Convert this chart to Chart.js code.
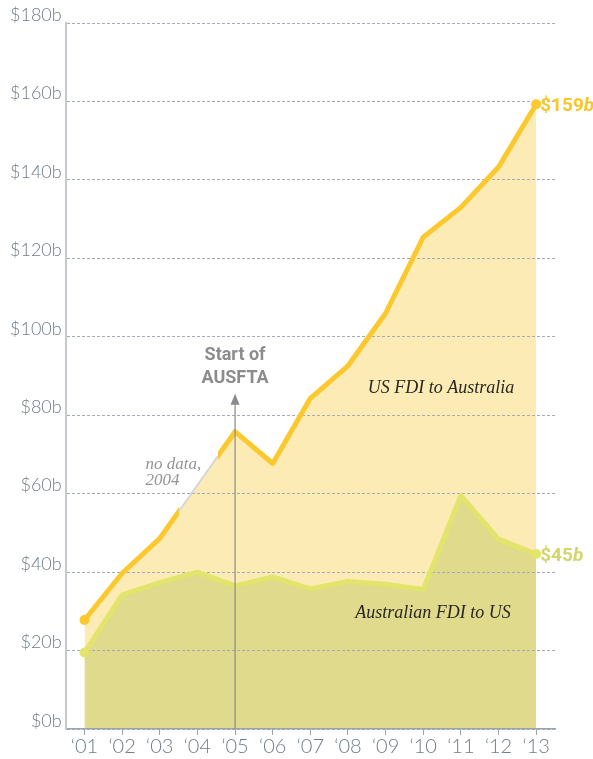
<!DOCTYPE html>
<html>
<head>
<meta charset="utf-8">
<script src="https://cdn.jsdelivr.net/npm/chart.js@4"></script>
<style>
  html, body { margin: 0; padding: 0; background: #fff; }
</style>
</head>
<body>
<canvas id="fdiChart" width="593" height="759"></canvas>
<script>
const years = ['\u201801', '\u201802', '\u201803', '\u201804', '\u201805', '\u201806', '\u201807',
               '\u201808', '\u201809', '\u201810', '\u201811', '\u201812', '\u201813'];
// US FDI to Australia, $b (no data for 2004)
const usToAustralia = [27.8, 39.7, 48.6, null, 75.8, 67.7, 84.3, 92.6, 106, 125.4, 133, 143.3, 159.3];
// Australian FDI to US, $b
const australiaToUs = [19.5, 34.2, 37.3, 40, 36.5, 38.8, 35.7, 37.6, 36.9, 35.6, 59.5, 48.4, 44.6];
const yTicks = [0, 20, 40, 60, 80, 100, 120, 140, 160, 180];

const usLine = '#fbc82e';
const usFill = '#fdebb5';
const ausLine = '#e2e46c';
const ausFill = '#e0da8d';
const tickGrey = '#707d88';

// line colour: yellow everywhere except the middle of the 2004 gap
let lineGrad = null;
function usStroke(c) {
    const chart = c.chart;
    const area = chart.chartArea;
    const x = chart.scales.x;
    if (!area || !x) return usLine;
    const key = area.left + ':' + area.right;
    if (!lineGrad || lineGrad.key !== key) {
        const w = area.right - area.left;
        const x0 = x.getPixelForValue(2);
        const x1 = x.getPixelForValue(4);
        const a = (x0 + (x1 - x0) * 0.25 - area.left) / w;
        const b = (x0 + (x1 - x0) * 0.77 - area.left) / w;
        const g = chart.ctx.createLinearGradient(area.left, 0, area.right, 0);
        g.addColorStop(0, usLine);
        g.addColorStop(a, usLine);
        g.addColorStop(a, 'rgba(251,200,46,0)');
        g.addColorStop(b, 'rgba(251,200,46,0)');
        g.addColorStop(b, usLine);
        g.addColorStop(1, usLine);
        lineGrad = {key, g};
    }
    return lineGrad.g;
}

const lastIdx = years.length - 1;
const endDots = c => (c.dataIndex === 0 || c.dataIndex === lastIdx) ? 5 : 0;

const notes = {
    id: 'notes',
    afterDatasetsDraw(chart) {
        const {ctx, scales: {x, y}} = chart;
        ctx.save();

        // thin grey line across the missing year
        const ax = x.getPixelForValue(2), ay = y.getPixelForValue(usToAustralia[2]);
        const bx = x.getPixelForValue(4), by = y.getPixelForValue(usToAustralia[4]);
        ctx.strokeStyle = '#d6d6d6';
        ctx.lineWidth = 2;
        ctx.beginPath();
        ctx.moveTo(ax + (bx - ax) * 0.25, ay + (by - ay) * 0.25);
        ctx.lineTo(ax + (bx - ax) * 0.77, ay + (by - ay) * 0.77);
        ctx.stroke();

        // AUSFTA marker
        const fx = x.getPixelForValue(4);
        const top = y.getPixelForValue(85.5);
        ctx.strokeStyle = '#8a8a8a';
        ctx.fillStyle = '#8a8a8a';
        ctx.lineWidth = 1.2;
        ctx.beginPath();
        ctx.moveTo(fx, y.getPixelForValue(0));
        ctx.lineTo(fx, top + 6);
        ctx.stroke();
        ctx.beginPath();
        ctx.moveTo(fx, top);
        ctx.lineTo(fx - 4.5, top + 11);
        ctx.lineTo(fx + 4.5, top + 11);
        ctx.closePath();
        ctx.fill();

        ctx.font = 'bold 18px Roboto, sans-serif';
        ctx.fillStyle = '#8c8c8c';
        ctx.textAlign = 'center';
        ctx.textBaseline = 'alphabetic';
        ctx.fillText('Start of', fx, y.getPixelForValue(94));
        ctx.fillText('AUSFTA', fx, y.getPixelForValue(88.3));

        // no data note
        ctx.font = 'italic 17px "Liberation Serif", serif';
        ctx.fillStyle = '#959595';
        ctx.textAlign = 'left';
        ctx.fillText('no data,', x.getPixelForValue(1.62), y.getPixelForValue(66.3));
        ctx.fillText('2004', x.getPixelForValue(1.62), y.getPixelForValue(62.2));

        // series names
        ctx.font = 'italic 18px "Liberation Serif", serif';
        ctx.fillStyle = '#2a2622';
        ctx.textAlign = 'center';
        ctx.fillText('US FDI to Australia', x.getPixelForValue(9.47), y.getPixelForValue(85.6));
        ctx.fillText('Australian FDI to US', x.getPixelForValue(9.26), y.getPixelForValue(28.3));

        // end values
        const endLabel = (val, colour) => {
            const px = x.getPixelForValue(lastIdx) + 4;
            const py = y.getPixelForValue(val) + 7;
            const num = '$' + Math.round(val);
            ctx.fillStyle = colour;
            ctx.textAlign = 'left';
            ctx.font = 'bold 19px Roboto, sans-serif';
            ctx.fillText(num, px, py);
            const w = ctx.measureText(num).width;
            ctx.font = 'italic bold 19px Roboto, sans-serif';
            ctx.fillText('b', px + w, py);
        };
        endLabel(usToAustralia[lastIdx], '#fbc62c');
        endLabel(australiaToUs[lastIdx], '#d3d66a');

        ctx.restore();
    }
};

const ctx = document.getElementById('fdiChart').getContext('2d');
const fdiChart = new Chart(ctx, {
    type: 'line',
    data: {
        labels: years,
        datasets: [{
            label: 'US FDI to Australia',
            data: usToAustralia,
            order: 2,
            borderColor: usStroke,
            backgroundColor: usFill,
            borderWidth: 5,
            borderJoinStyle: 'round',
            fill: 'origin',
            spanGaps: true,
            tension: 0,
            pointRadius: endDots,
            pointBackgroundColor: usLine,
            pointBorderWidth: 0
        }, {
            label: 'Australian FDI to US',
            data: australiaToUs,
            order: 1,
            borderColor: ausLine,
            backgroundColor: ausFill,
            borderWidth: 5,
            borderJoinStyle: 'round',
            fill: 'origin',
            tension: 0,
            pointRadius: endDots,
            pointBackgroundColor: ausLine,
            pointBorderWidth: 0
        }]
    },
    options: {
        responsive: false,
        animation: false,
        events: [],
        layout: {
            padding: {top: 23, right: 38, left: 6, bottom: 0}
        },
        scales: {
            x: {
                offset: true,
                grid: {
                    offset: false,
                    drawOnChartArea: false,
                    tickLength: 6,
                    tickColor: '#9aa4ad'
                },
                border: {color: '#9aa4ad', width: 1.5},
                ticks: {
                    color: tickGrey,
                    padding: 0,
                    font: {family: 'Lato', weight: 300, size: 20}
                }
            },
            y: {
                min: 0,
                max: 180,
                afterBuildTicks: axis => {
                    axis.ticks = yTicks.map(v => ({value: v}));
                },
                grid: {
                    color: '#a3acb4',
                    lineWidth: 1,
                    drawTicks: false
                },
                border: {color: '#c3c9ce', width: 2, dash: [3, 2]},
                ticks: {
                    color: tickGrey,
                    padding: 4,
                    labelOffset: -8,
                    font: {family: 'Lato', weight: 300, size: 18},
                    callback: v => '$' + v + 'b'
                }
            }
        },
        plugins: {
            legend: {display: false},
            tooltip: {enabled: false},
            filler: {drawTime: 'beforeDraw'}
        }
    },
    plugins: [notes]
});
</script>
</body>
</html>
